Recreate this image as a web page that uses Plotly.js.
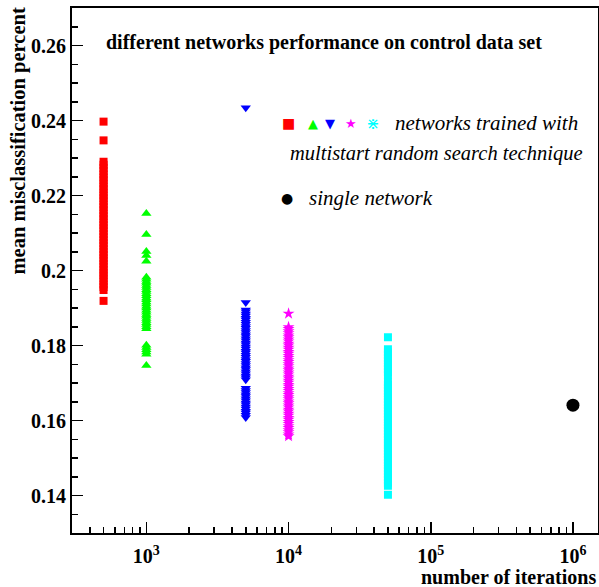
<!DOCTYPE html>
<html>
<head>
<meta charset="utf-8">
<script src="https://cdn.plot.ly/plotly-3.0.1.min.js"></script>
<style>html,body{margin:0;padding:0;background:#fff;}#chart{width:599px;height:587px;}</style>
</head>
<body>
<div id="chart"></div>
<script>
// iterations for each group of networks
const iterRed = 500;
const iterGreen = 1000;
const iterBlue = 5000;
const iterMagenta = 10000;
const iterCyan = 50000;
const iterSingle = 1000000;

// mean misclassification values
const redVals = [0.2397, 0.2347, 0.2290, 0.2282, 0.2273, 0.2265, 0.2256, 0.2248, 0.2241, 0.2232, 0.2224, 0.2217,
  0.2208, 0.2200, 0.2193, 0.2185, 0.2176, 0.2169, 0.2161, 0.2152, 0.2145, 0.2137, 0.2128, 0.2121, 0.2113, 0.2105,
  0.2097, 0.2089, 0.2081, 0.2073, 0.2066, 0.2057, 0.2049, 0.2042, 0.2033, 0.2026, 0.2018, 0.2010, 0.2002, 0.1994,
  0.1987, 0.1979, 0.1971, 0.1963, 0.1956, 0.1948, 0.1919];
const greenVals = [0.2152, 0.2096, 0.2051, 0.2040, 0.2025, 0.1982, 0.1977, 0.1971, 0.1966, 0.1960, 0.1955, 0.1949,
  0.1944, 0.1938, 0.1933, 0.1927, 0.1922, 0.1916, 0.1911, 0.1905, 0.1900, 0.1894, 0.1889, 0.1883, 0.1878, 0.1872,
  0.1867, 0.1861, 0.1856, 0.1850, 0.1845, 0.1801, 0.1795, 0.1789, 0.1783, 0.1777, 0.1747];
const blueVals = [0.2434, 0.1915, 0.1895, 0.1890, 0.1884, 0.1879, 0.1873, 0.1868, 0.1862, 0.1857, 0.1851, 0.1846,
  0.1840, 0.1835, 0.1829, 0.1824, 0.1818, 0.1813, 0.1807, 0.1802, 0.1796, 0.1791, 0.1785, 0.1780, 0.1774, 0.1769,
  0.1763, 0.1758, 0.1752, 0.1747, 0.1741, 0.1736, 0.1730, 0.1725, 0.1719, 0.1714, 0.1709, 0.1686, 0.1680, 0.1675,
  0.1669, 0.1664, 0.1658, 0.1653, 0.1647, 0.1642, 0.1636, 0.1631, 0.1625, 0.1620, 0.1614, 0.1608];
const magentaVals = [0.1885, 0.1849, 0.1844, 0.1838, 0.1833, 0.1827, 0.1822, 0.1816, 0.1811, 0.1805, 0.1800, 0.1794,
  0.1789, 0.1783, 0.1778, 0.1772, 0.1767, 0.1761, 0.1756, 0.1750, 0.1745, 0.1739, 0.1734, 0.1728, 0.1723, 0.1717,
  0.1712, 0.1706, 0.1701, 0.1695, 0.1690, 0.1684, 0.1679, 0.1673, 0.1668, 0.1662, 0.1657, 0.1651, 0.1646, 0.1640,
  0.1635, 0.1629, 0.1624, 0.1618, 0.1613, 0.1607, 0.1602, 0.1596, 0.1591, 0.1585, 0.1580, 0.1574, 0.1569, 0.1563,
  0.1558];
const cyanVals = [0.1822, 0.1790, 0.1782, 0.1775, 0.1767, 0.1760, 0.1752, 0.1744, 0.1737, 0.1729, 0.1721, 0.1702,
  0.1695, 0.1687, 0.1679, 0.1672, 0.1664, 0.1656, 0.1649, 0.1641, 0.1633, 0.1626, 0.1618, 0.1610, 0.1603, 0.1595,
  0.1587, 0.1580, 0.1572, 0.1564, 0.1557, 0.1549, 0.1541, 0.1534, 0.1526, 0.1518, 0.1511, 0.1503, 0.1495, 0.1488,
  0.1480, 0.1472, 0.1465, 0.1457, 0.1449, 0.1442, 0.1434, 0.1426, 0.1402];
const singleVals = [0.1641];

const xTickVals = [1000, 10000, 100000, 1000000];
const xTickText = ['10<sup>3</sup>', '10<sup>4</sup>', '10<sup>5</sup>', '10<sup>6</sup>'];
const yTickVals = [0.14, 0.16, 0.18, 0.2, 0.22, 0.24, 0.26];
const yTickText = ['0.14', '0.16', '0.18', '0.2', '0.22', '0.24', '0.26'];

const serif = 'Liberation Serif';

function column(xv, vals, color, symbol, size) {
  return {
    type: 'scatter', mode: 'markers',
    x: vals.map(() => xv), y: vals,
    marker: {color: color, symbol: symbol, size: size, line: {width: 0}},
    showlegend: false, hoverinfo: 'x+y'
  };
}

const data = [
  column(iterRed, redVals, '#ff0000', 'square', 8),
  column(iterGreen, greenVals, '#00ff00', 'triangle-up', 9),
  column(iterBlue, blueVals, '#0000ff', 'triangle-down', 9),
  column(iterMagenta, magentaVals, '#ff00ff', 'star', 9),
  column(iterCyan, cyanVals, '#00ffff', 'square', 8),
  column(iterSingle, singleVals, '#000000', 'circle', 13)
];

// minor tick positions on log x axis (2..9 × decade)
const minorX = [];
for (let d = 100; d <= 1000000; d *= 10) for (let k = 2; k <= 9; k++) minorX.push(d * k);
const minorY = [];
for (let v = 0.13; v <= 0.2701; v += 0.005) minorY.push(+v.toFixed(3));

const lx = v => (v - 72) / 526;
const ly = v => (533 - v) / 525;

const layout = {
  width: 599, height: 587,
  margin: {l: 72, r: 1, t: 8, b: 54},
  paper_bgcolor: '#fff', plot_bgcolor: '#fff',
  showlegend: false,
  xaxis: {
    type: 'log', range: [Math.log10(300), Math.log10(1.5e6)],
    tickmode: 'array', tickvals: xTickVals, ticktext: xTickText,
    ticks: 'inside', ticklen: 11, tickwidth: 1.5, tickcolor: '#000',
    minor: {tickmode: 'array', tickvals: minorX, ticks: 'inside', ticklen: 6, tickwidth: 1.5, tickcolor: '#000', showgrid: false},
    showline: true, linecolor: '#000', linewidth: 2, mirror: true,
    showgrid: false, zeroline: false,
    tickfont: {family: serif, size: 20, color: '#000', weight: 'bold'},
    ticklabelstandoff: 4
  },
  yaxis: {
    range: [0.13, 0.27],
    tickmode: 'array', tickvals: yTickVals, ticktext: yTickText,
    ticks: 'inside', ticklen: 11, tickwidth: 1.5, tickcolor: '#000',
    minor: {tickmode: 'array', tickvals: minorY, ticks: 'inside', ticklen: 6, tickwidth: 1.5, tickcolor: '#000', showgrid: false},
    showline: true, linecolor: '#000', linewidth: 2, mirror: true,
    showgrid: false, zeroline: false,
    tickfont: {family: serif, size: 20, color: '#000', weight: 'bold'},
    ticklabelstandoff: 0
  },
  annotations: [
    {xref: 'paper', yref: 'paper', x: lx(104), y: ly(43), xanchor: 'left', yanchor: 'middle', showarrow: false,
     text: 'different networks performance on control data set', font: {family: serif, size: 20, color: '#000', weight: 'bold'}},
    {xref: 'paper', yref: 'paper', x: lx(18), y: ly(6), xanchor: 'center', yanchor: 'top', showarrow: false, textangle: -90,
     text: 'mean misclassification percent', font: {family: serif, size: 20.5, color: '#000', weight: 'bold'}},
    {xref: 'paper', yref: 'paper', x: 1, y: ly(577), xanchor: 'right', yanchor: 'middle', showarrow: false,
     text: 'number of iterations', font: {family: serif, size: 20, color: '#000', weight: 'bold'}},
    {xref: 'paper', yref: 'paper', x: lx(288), y: ly(123), xanchor: 'center', yanchor: 'middle', showarrow: false,
     text: '■', font: {family: 'DejaVu Sans', size: 14, color: '#ff0000'}},
    {xref: 'paper', yref: 'paper', x: lx(313), y: ly(123), xanchor: 'center', yanchor: 'middle', showarrow: false,
     text: '▲', font: {family: 'DejaVu Sans', size: 13, color: '#00ff00'}},
    {xref: 'paper', yref: 'paper', x: lx(330), y: ly(123), xanchor: 'center', yanchor: 'middle', showarrow: false,
     text: '▼', font: {family: 'DejaVu Sans', size: 13, color: '#0000ff'}},
    {xref: 'paper', yref: 'paper', x: lx(351), y: ly(123), xanchor: 'center', yanchor: 'middle', showarrow: false,
     text: '★', font: {family: 'DejaVu Sans', size: 13, color: '#ff00ff'}},
    {xref: 'paper', yref: 'paper', x: lx(372), y: ly(123), xanchor: 'center', yanchor: 'middle', showarrow: false,
     text: '⋇', font: {family: 'DejaVu Sans', size: 16, color: '#00ffff'}},
    {xref: 'paper', yref: 'paper', x: lx(393), y: ly(123), xanchor: 'left', yanchor: 'middle', showarrow: false,
     text: 'networks trained with', font: {family: serif, size: 21, color: '#000', style: 'italic'}},
    {xref: 'paper', yref: 'paper', x: lx(288), y: ly(153), xanchor: 'left', yanchor: 'middle', showarrow: false,
     text: 'multistart random search technique', font: {family: serif, size: 20.5, color: '#000', style: 'italic'}},
    {xref: 'paper', yref: 'paper', x: lx(287), y: ly(198), xanchor: 'center', yanchor: 'middle', showarrow: false,
     text: '●', font: {family: 'DejaVu Sans', size: 14, color: '#000'}},
    {xref: 'paper', yref: 'paper', x: lx(307), y: ly(198), xanchor: 'left', yanchor: 'middle', showarrow: false,
     text: 'single network', font: {family: serif, size: 21, color: '#000', style: 'italic'}}
  ]
};

Plotly.newPlot('chart', data, layout, {displayModeBar: false, staticPlot: true});
</script>
</body>
</html>
